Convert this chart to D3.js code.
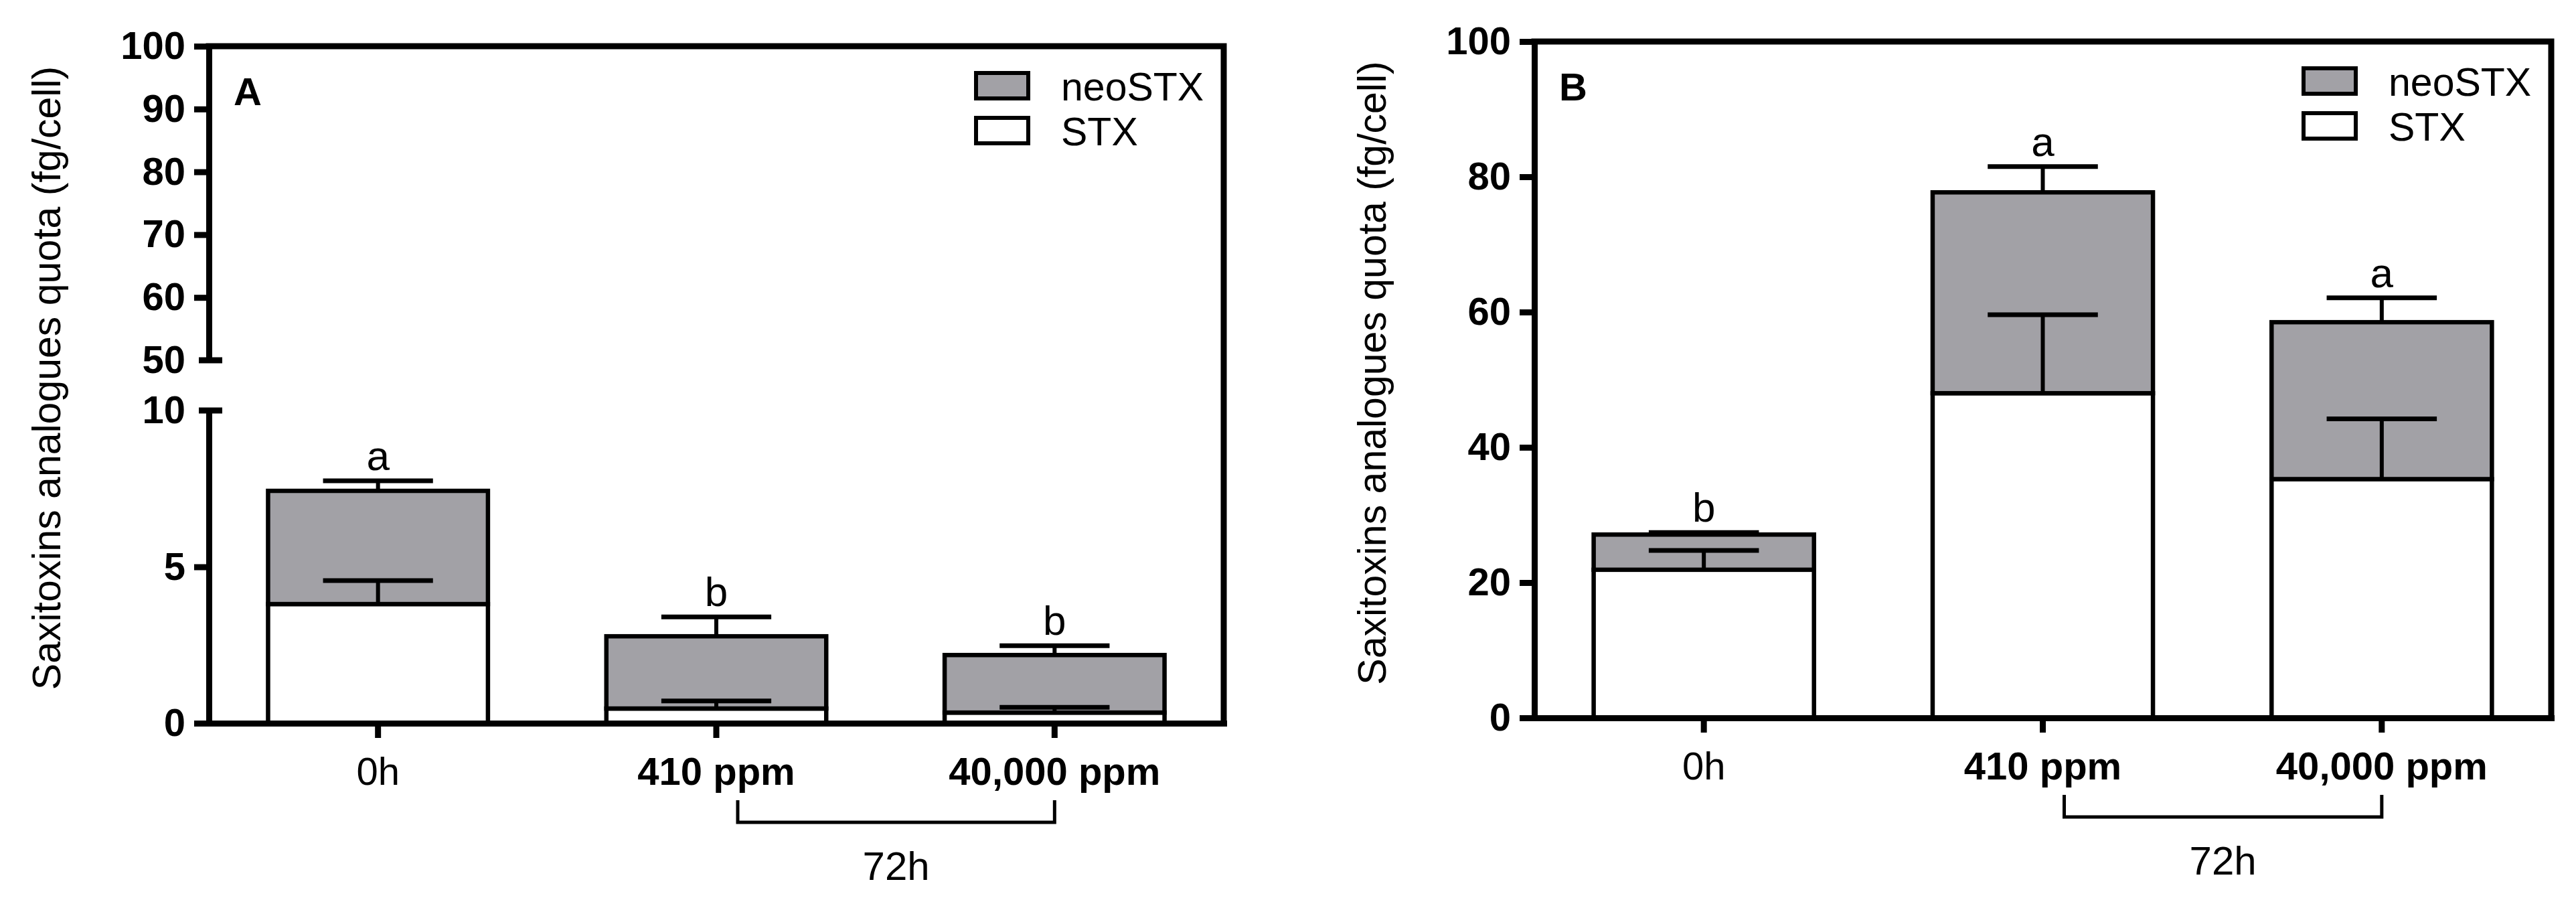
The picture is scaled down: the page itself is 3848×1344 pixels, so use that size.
<!DOCTYPE html>
<html><head><meta charset="utf-8">
<script src="https://cdn.jsdelivr.net/npm/d3@7"></script>
<style>body{margin:0;background:#fff} svg{display:block} text{font-family:"Liberation Sans",Arial,Helvetica,sans-serif}</style>
</head><body><svg id="c" width="3848" height="1344"></svg>
<script>
// ---- data ----
const categories = ["0h", "410 ppm", "40,000 ppm"];
const boldCats = [false, true, true];
const seriesNames = ["neoSTX", "STX"];
// Panel A
const stxA = [3.81, 0.47, 0.34];
const stxErrA = [0.75, 0.24, 0.17];
const neoA = [3.62, 2.31, 1.84];
const totalErrA = [0.32, 0.62, 0.30];
const lettersA = ["a", "b", "b"];
const ticksALower = [0, 5, 10];
const ticksAUpper = [50, 60, 70, 80, 90, 100];
// Panel B
const stxB = [21.9, 48.0, 35.3];
const stxErrB = [2.85, 11.6, 8.9];
const neoB = [5.2, 29.7, 23.2];
const totalErrB = [0.3, 3.8, 3.6];
const lettersB = ["b", "a", "a"];
const ticksB = [0, 20, 40, 60, 80, 100];
const groupLabel = "72h";
const yTitle = "Saxitoxins analogues quota (fg/cell)";

const GRAY = "#a2a1a6";
const svg = d3.select("#c");

function drawPanel(p) {
  const g = svg.append("g");
  const x = d3.scaleBand().domain(categories).range([p.x0, p.x1]).paddingInner(0.35).paddingOuter(0.175);
  const segs = p.segments.map(s => ({...s, scale: d3.scaleLinear().domain(s.domain).range(s.range)}));
  const y = segs[0].scale;
  const yBottom = segs[0].range[0];
  const yTop = segs[segs.length - 1].range[1];

  // bars
  const rows = categories.map((c, i) => ({cat: c, STX: p.stx[i], neoSTX: p.neo[i]}));
  const stack = d3.stack().keys(["STX", "neoSTX"])(rows);
  const fills = {STX: "#fff", neoSTX: GRAY};
  stack.forEach(layer => {
    g.selectAll(null).data(layer).join("rect")
      .attr("x", d => x(d.data.cat))
      .attr("width", x.bandwidth())
      .attr("y", d => y(d[1]))
      .attr("height", d => y(d[0]) - y(d[1]))
      .attr("fill", fills[layer.key])
      .attr("stroke", "#000").attr("stroke-width", 6.5);
  });

  // error bars
  const eb = (val, err) => categories.forEach((c, i) => {
    const cx = x(c) + x.bandwidth() / 2, hw = x.bandwidth() / 4;
    g.append("line").attr("x1", cx).attr("x2", cx).attr("y1", y(val[i])).attr("y2", y(val[i] + err[i]))
      .attr("stroke", "#000").attr("stroke-width", 6);
    g.append("line").attr("x1", cx - hw).attr("x2", cx + hw).attr("y1", y(val[i] + err[i])).attr("y2", y(val[i] + err[i]))
      .attr("stroke", "#000").attr("stroke-width", 7);
  });
  eb(p.stx, p.stxErr);
  const totals = p.stx.map((v, i) => v + p.neo[i]);
  eb(totals, p.totalErr);

  // significance letters
  categories.forEach((c, i) => {
    g.append("text").attr("x", x(c) + x.bandwidth() / 2).attr("y", y(totals[i] + p.totalErr[i]) - 16)
      .attr("text-anchor", "middle").attr("font-size", 62).text(p.letters[i]);
  });

  // frame top + right
  g.append("path").attr("d", `M${p.x0},${yTop}H${p.x1}V${yBottom}`)
    .attr("fill", "none").attr("stroke", "#000").attr("stroke-width", 9).attr("stroke-linecap", "square");

  // y axes
  segs.forEach((s, si) => {
    const ax = g.append("g").attr("transform", `translate(${p.x0},0)`)
      .call(d3.axisLeft(s.scale).tickValues(s.ticks).tickSize(22).tickSizeOuter(0).tickPadding(13));
    ax.select(".domain").attr("stroke-width", 9);
    ax.selectAll(".tick line").attr("stroke-width", 9)
      .attr("display", d => (s.breakAt !== undefined && d === s.breakAt) ? "none" : null);
    ax.selectAll(".tick text").attr("font-size", 58).attr("font-weight", "bold").attr("fill", "#000");
    if (s.breakAt !== undefined) {
      g.append("line").attr("x1", p.x0 - 15).attr("x2", p.x0 + 20)
        .attr("y1", s.scale(s.breakAt)).attr("y2", s.scale(s.breakAt))
        .attr("stroke", "#000").attr("stroke-width", 9);
    }
  });

  // x axis
  const xa = g.append("g").attr("transform", `translate(0,${yBottom})`)
    .call(d3.axisBottom(x).tickSize(22).tickSizeOuter(0).tickPadding(29));
  xa.select(".domain").attr("stroke-width", 9).attr("stroke-linecap", "square");
  xa.selectAll(".tick line").attr("stroke-width", 9);
  xa.selectAll(".tick text").attr("font-size", 58).attr("fill", "#000")
    .attr("font-weight", (d, i) => boldCats[i] ? "bold" : "normal");

  // bracket for 72h
  const c1 = x(categories[1]) + x.bandwidth() / 2 + 32;
  const c2 = x(categories[2]) + x.bandwidth() / 2;
  g.append("path").attr("d", `M${c1},${yBottom + 115}V${yBottom + 148}H${c2}V${yBottom + 115}`)
    .attr("fill", "none").attr("stroke", "#000").attr("stroke-width", 5);
  g.append("text").attr("x", (c1 + c2) / 2).attr("y", yBottom + 234).attr("text-anchor", "middle")
    .attr("font-size", 60).text(groupLabel);

  // panel letter
  g.append("text").attr("x", p.x0 + 37).attr("y", yTop + 88).attr("font-size", 58).attr("font-weight", "bold").text(p.letter);

  // legend
  const lg = [{name: seriesNames[0], fill: GRAY, dy: 40}, {name: seriesNames[1], fill: "#fff", dy: 107}];
  lg.forEach(l => {
    g.append("rect").attr("x", p.x1 - 370).attr("y", yTop + l.dy).attr("width", 78).attr("height", 38)
      .attr("fill", l.fill).attr("stroke", "#000").attr("stroke-width", 6);
    g.append("text").attr("x", p.x1 - 243).attr("y", yTop + l.dy + 41).attr("font-size", 59).text(l.name);
  });

  // y title
  const cy = (yTop + yBottom) / 2 - 10;
  g.append("text").attr("transform", `translate(${p.x0 - 222},${cy}) rotate(-90)`)
    .attr("text-anchor", "middle").attr("font-size", 59).text(yTitle);
}

drawPanel({
  x0: 312, x1: 1828, letter: "A",
  segments: [
    {domain: [0, 10], range: [1080, 613], ticks: ticksALower, breakAt: 10},
    {domain: [50, 100], range: [538, 69], ticks: ticksAUpper, breakAt: 50}
  ],
  stx: stxA, stxErr: stxErrA, neo: neoA, totalErr: totalErrA, letters: lettersA
});
drawPanel({
  x0: 2292, x1: 3811, letter: "B",
  segments: [{domain: [0, 100], range: [1072, 62], ticks: ticksB}],
  stx: stxB, stxErr: stxErrB, neo: neoB, totalErr: totalErrB, letters: lettersB
});
</script></body></html>
